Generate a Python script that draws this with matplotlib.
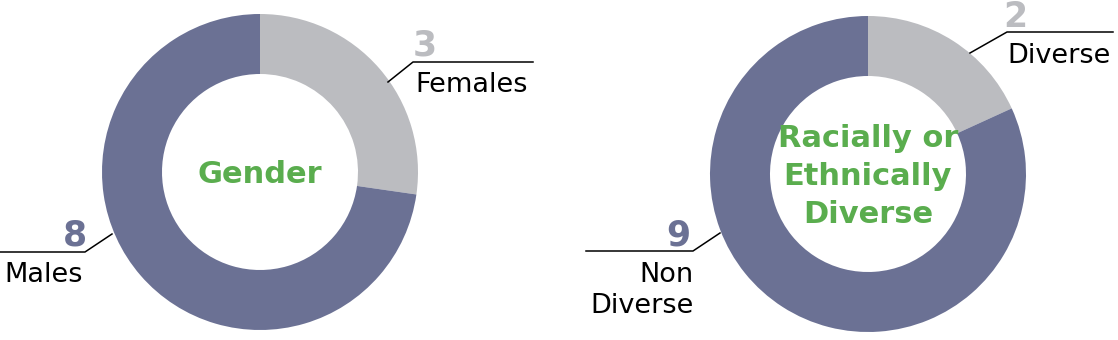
import matplotlib.pyplot as plt
import numpy as np

plt.rcParams['font.family'] = ['DejaVu Sans']

# data
gender_labels = ['Females', 'Males']
gender_values = [3, 8]
diversity_labels = ['Diverse', 'Non\nDiverse']
diversity_values = [2, 9]
gender_title = ['Gender']
diversity_title = ['Racially or', 'Ethnically', 'Diverse']

GREY = '#bbbcc0'
SLATE = '#6b7194'
GREEN = '#5aad4e'
H = 340


def Y(y):
	# image pixel row -> axes y
	return H - y


def donut(ax, values, cx, cy, title_lines):
	ax.pie(values, colors=[GREY, SLATE], startangle=90, counterclock=False,
		center=(cx, Y(cy)), radius=158, wedgeprops=dict(width=60, linewidth=0))
	# centre title, one line each, 38px apart
	n = len(title_lines)
	for i, line in enumerate(title_lines):
		base = cy + 11 + (i - (n - 1) / 2) * 38
		ax.text(cx, Y(base), line, ha='center', va='baseline', color=GREEN,
			fontsize=22, fontweight='bold')


def label(ax, value, color, text, num_xy, line_pts, text_xy, num_ha, ha):
	xs, ys = zip(*line_pts)
	ax.plot(xs, [Y(v) for v in ys], color='black', lw=1.1)
	ax.text(num_xy[0], Y(num_xy[1]), str(value), color=color, fontsize=25,
		fontweight='bold', ha=num_ha, va='baseline')
	lines = text.split('\n')
	for i, line in enumerate(lines):
		ax.text(text_xy[0], Y(text_xy[1] + i * 31), line, color='black',
			fontsize=19.5, ha=ha, va='baseline')


fig = plt.figure(figsize=(11.18, 3.4), dpi=100)
ax = fig.add_axes([0, 0, 1, 1])

donut(ax, gender_values, 260, 172, gender_title)
donut(ax, diversity_values, 868, 174, diversity_title)

ax.set_xlim(0, 1118)
ax.set_ylim(0, H)
ax.set_aspect('equal')
ax.axis('off')

label(ax, gender_values[0], GREY, gender_labels[0], (413, 55),
	[(388, 82), (413, 62), (533, 62)], (415, 92), 'left', 'left')
label(ax, gender_values[1], SLATE, gender_labels[1], (87, 245),
	[(0, 252), (85, 252), (112, 234)], (4, 282), 'right', 'left')
label(ax, diversity_values[0], GREY, diversity_labels[0], (1003, 27),
	[(970, 53), (1007, 32), (1113, 32)], (1007, 63), 'left', 'left')
label(ax, diversity_values[1], SLATE, diversity_labels[1], (690, 245),
	[(586, 251), (693, 251), (720, 233)], (694, 282), 'right', 'right')

fig.savefig('out.png', dpi=100)
